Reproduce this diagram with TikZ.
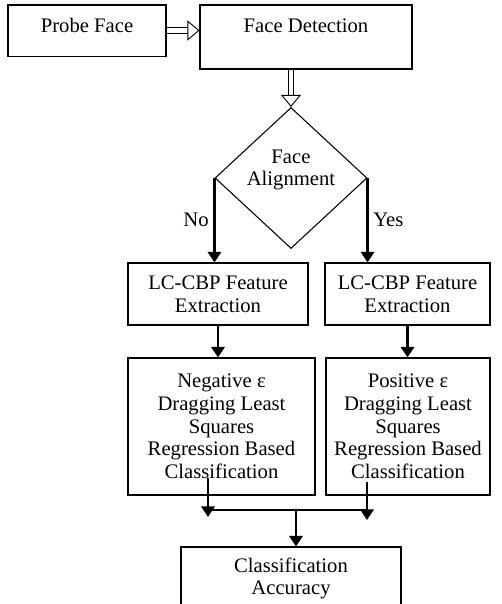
\documentclass[tikz,border=0pt]{standalone}
\usepackage{fontspec}
\setmainfont{Liberation Serif}
\usetikzlibrary{shapes.geometric,arrows.meta,positioning}

\begin{document}
\begin{tikzpicture}[x=0.75pt,y=-0.75pt,
    block/.style={draw,line width=0.8pt,align=center,inner sep=0pt,
      font=\fontsize{15.5}{17}\selectfont},
    decision/.style={draw,diamond,line width=0.8pt,inner sep=0pt,
      minimum width=114pt,minimum height=105.75pt},
    lbl/.style={font=\fontsize{15.5}{17}\selectfont},
    hollow/.style={double,double distance=3.5pt,line width=0.7pt,
      -{Triangle[open,width=15pt,length=9pt]}},
    flow/.style={line width=2pt,-{Triangle[width=10pt,length=8pt]}}]
  \useasboundingbox (0,0) rectangle (501,604);
  \clip (0,0) rectangle (501,604);
  \node[block,minimum width=118.5pt,text height=20.8pt,text depth=17.5pt] (probe) at (87,30.5) {Probe Face};
  \node[block,minimum width=159pt,text height=20.8pt,text depth=27.2pt] (detect) at (306,37) {Face Detection};
  \node[decision] (align) at (291,178) {};
  \node[lbl,align=center] (aligntext) at (291,170) {Face\\Alignment};
  \node[block,minimum width=135pt,minimum height=46.5pt] (lcneg) at (218,294) {LC-CBP Feature\\Extraction};
  \node[block,minimum width=123.75pt,minimum height=46.5pt] (lcpos) at (407.5,294) {LC-CBP Feature\\Extraction};
  \node[block,minimum width=140.25pt,minimum height=102.75pt] (negcls) at (221.5,426.5) {Negative ε\\Dragging Least\\Squares\\Regression Based\\Classification};
  \node[block,minimum width=123pt,minimum height=102.75pt] (poscls) at (408,426.5) {Positive ε\\Dragging Least\\Squares\\Regression Based\\Classification};
  \node[block,minimum width=165pt,minimum height=47.25pt] (accuracy) at (291,578.5) {Classification\\Accuracy};
  \draw[hollow] (probe.east) -- (probe.east -| detect.west);
  \draw[hollow] (align.north |- detect.south) -- (align.north);
  \draw[flow] (align.west) -- (align.west |- lcneg.north) node[midway,left,lbl] {No};
  \draw[flow] (align.east) -- (align.east |- lcpos.north) node[midway,right,lbl] {Yes};
  \draw[flow] (lcneg.south) -- (lcneg.south |- negcls.north);
  \draw[flow] (lcpos.south) -- (lcpos.south |- poscls.north);
  \coordinate (negout) at (208,478);
  \coordinate (posout) at (367,482);
  \coordinate (joinl) at (208,510);
  \coordinate (joinr) at (367,510);
  \coordinate (joinm) at (296,510);
  \draw[flow] (negout) -- ++(0,39);
  \draw[flow] (posout) -- ++(0,38);
  \draw[line width=0.8pt] (joinl) -- (joinr);
  \draw[flow] (joinm) -- (joinm |- accuracy.north);
\end{tikzpicture}
\end{document}
